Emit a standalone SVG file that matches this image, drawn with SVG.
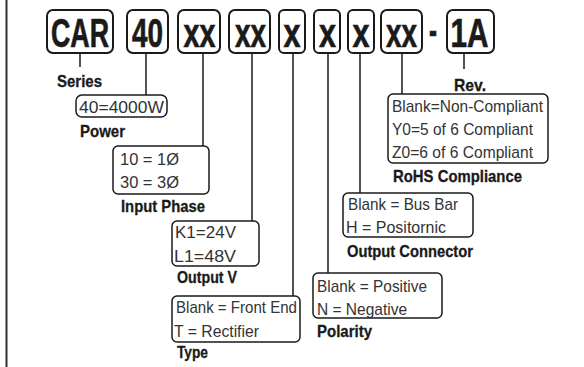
<svg xmlns="http://www.w3.org/2000/svg" width="584" height="367" viewBox="0 0 584 367">
<style>
.code{fill:#fff;stroke:#1a1a1a;stroke-width:2}
.box{fill:#fff;stroke:#1a1a1a;stroke-width:1.5}
.big{font-family:"Liberation Sans Narrow","Liberation Sans",Arial,sans-serif;font-weight:bold;font-size:41px;fill:#1a1a1a;stroke:#1a1a1a;stroke-width:0.7;text-anchor:middle}
.lt{font-family:"Liberation Sans Narrow","Liberation Sans",Arial,sans-serif;font-size:17px;fill:#333}
.lb{font-family:"Liberation Sans Narrow","Liberation Sans",Arial,sans-serif;font-weight:bold;font-size:17px;fill:#1a1a1a;stroke:#1a1a1a;stroke-width:0.3}
.conn line{stroke:#1a1a1a;stroke-width:1.5}
</style>
<rect width="584" height="367" fill="#fff"/>
<g id="frame"><line x1="6.5" y1="0" x2="6.5" y2="367" stroke="#333" stroke-width="2"/></g>
<g id="connectors" class="conn">
<line x1="80" y1="53" x2="80" y2="67"/>
<line x1="146" y1="53" x2="146" y2="95"/>
<line x1="203" y1="53" x2="203" y2="146"/>
<line x1="252" y1="53" x2="252" y2="221"/>
<line x1="293" y1="53" x2="293" y2="296"/>
<line x1="328" y1="53" x2="328" y2="273"/>
<line x1="360" y1="53" x2="360" y2="193"/>
<line x1="402" y1="53" x2="402" y2="94"/>
<line x1="464" y1="53" x2="464" y2="69"/>
</g>
<g id="code-car"><rect class="code" x="47" y="10" width="66" height="43" rx="6"/><text class="big" x="80" y="47" textLength="58" lengthAdjust="spacingAndGlyphs">CAR</text></g>
<g id="code-40"><rect class="code" x="127" y="10" width="41" height="43" rx="6"/><text class="big" x="147.5" y="47" textLength="31" lengthAdjust="spacingAndGlyphs">40</text></g>
<g id="code-xx1"><rect class="code" x="178" y="10" width="42" height="43" rx="6"/><text class="big" x="199.5" y="47" textLength="32" lengthAdjust="spacingAndGlyphs">xx</text></g>
<g id="code-xx2"><rect class="code" x="229" y="10" width="41" height="43" rx="6"/><text class="big" x="250.5" y="47" textLength="31" lengthAdjust="spacingAndGlyphs">xx</text></g>
<g id="code-x1"><rect class="code" x="279" y="10" width="26" height="43" rx="5"/><text class="big" x="292" y="47" textLength="17" lengthAdjust="spacingAndGlyphs">x</text></g>
<g id="code-x2"><rect class="code" x="314" y="10" width="26" height="43" rx="5"/><text class="big" x="327.5" y="47" textLength="17" lengthAdjust="spacingAndGlyphs">x</text></g>
<g id="code-x3"><rect class="code" x="348" y="10" width="26" height="43" rx="5"/><text class="big" x="361" y="47" textLength="17" lengthAdjust="spacingAndGlyphs">x</text></g>
<g id="code-xx3"><rect class="code" x="381" y="10" width="41" height="43" rx="6"/><text class="big" x="401.5" y="47" textLength="31" lengthAdjust="spacingAndGlyphs">xx</text></g>
<g id="dash"><text class="big" x="433" y="44" textLength="8" lengthAdjust="spacingAndGlyphs">-</text></g>
<g id="code-1a"><rect class="code" x="447" y="10" width="47" height="43" rx="6"/><text class="big" x="469.5" y="47" textLength="38" lengthAdjust="spacingAndGlyphs">1A</text></g>

<g id="series"><text class="lb" x="57" y="87" textLength="45" lengthAdjust="spacingAndGlyphs">Series</text></g>
<g id="power"><rect class="box" x="76" y="95" width="91" height="22" rx="6"/><text class="lt" x="79" y="113" textLength="85" lengthAdjust="spacingAndGlyphs">40=4000W</text><text class="lb" x="80" y="137" textLength="45" lengthAdjust="spacingAndGlyphs">Power</text></g>
<g id="input-phase"><rect class="box" x="113" y="146" width="96" height="48" rx="5"/><text class="lt" x="120" y="165" textLength="59" lengthAdjust="spacingAndGlyphs">10 = 1Ø</text><text class="lt" x="120" y="188" textLength="59" lengthAdjust="spacingAndGlyphs">30 = 3Ø</text><text class="lb" x="121" y="212" textLength="84" lengthAdjust="spacingAndGlyphs">Input Phase</text></g>
<g id="output-v"><rect class="box" x="172" y="221" width="87" height="45" rx="5"/><text class="lt" x="175" y="238" textLength="61" lengthAdjust="spacingAndGlyphs">K1=24V</text><text class="lt" x="174" y="262" textLength="62" lengthAdjust="spacingAndGlyphs">L1=48V</text><text class="lb" x="177" y="283" textLength="60" lengthAdjust="spacingAndGlyphs">Output V</text></g>
<g id="type"><rect class="box" x="172" y="296" width="128" height="46" rx="5"/><text class="lt" x="176" y="313" textLength="121" lengthAdjust="spacingAndGlyphs">Blank = Front End</text><text class="lt" x="174" y="337" textLength="85" lengthAdjust="spacingAndGlyphs">T = Rectifier</text><text class="lb" x="177" y="358" textLength="31" lengthAdjust="spacingAndGlyphs">Type</text></g>
<g id="polarity"><rect class="box" x="313" y="273" width="129" height="45" rx="5"/><text class="lt" x="317" y="292" textLength="110" lengthAdjust="spacingAndGlyphs">Blank = Positive</text><text class="lt" x="317" y="315" textLength="90" lengthAdjust="spacingAndGlyphs">N = Negative</text><text class="lb" x="317" y="337" textLength="55" lengthAdjust="spacingAndGlyphs">Polarity</text></g>
<g id="output-connector"><rect class="box" x="343" y="193" width="130" height="44" rx="5"/><text class="lt" x="348" y="210" textLength="110" lengthAdjust="spacingAndGlyphs">Blank = Bus Bar</text><text class="lt" x="346" y="233" textLength="100" lengthAdjust="spacingAndGlyphs">H = Positornic</text><text class="lb" x="347" y="257" textLength="126" lengthAdjust="spacingAndGlyphs">Output Connector</text></g>
<g id="rohs"><rect class="box" x="388" y="94" width="160" height="69" rx="5"/><text class="lt" x="392" y="112" textLength="151" lengthAdjust="spacingAndGlyphs">Blank=Non-Compliant</text><text class="lt" x="392" y="135" textLength="141" lengthAdjust="spacingAndGlyphs">Y0=5 of 6 Compliant</text><text class="lt" x="392" y="158" textLength="141" lengthAdjust="spacingAndGlyphs">Z0=6 of 6 Compliant</text><text class="lb" x="393" y="182" textLength="129" lengthAdjust="spacingAndGlyphs">RoHS Compliance</text></g>
<g id="rev"><text class="lb" x="454" y="91" textLength="32" lengthAdjust="spacingAndGlyphs">Rev.</text></g>
</svg>
